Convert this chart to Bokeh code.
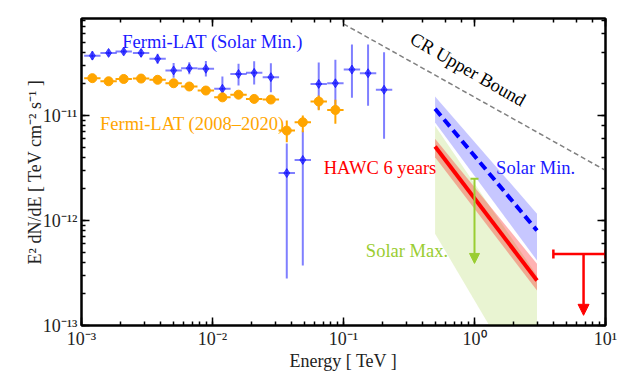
from bokeh.plotting import figure
from bokeh.models import LogAxis, Arrow, NormalHead, CustomJSTickFormatter
from bokeh.core.properties import value
from bokeh.embed import file_html
from bokeh.resources import INLINE
import numpy as np

# ---------------- data ----------------
# Fermi-LAT (Solar Min.)
min_E = [1.21e-3, 1.61e-3, 2.10e-3, 2.85e-3, 3.81e-3, 5.05e-3, 6.65e-3, 8.9e-3,
         1.19e-2, 1.58e-2, 2.08e-2, 2.79e-2, 3.69e-2, 4.89e-2, 6.47e-2, 8.67e-2,
         0.116, 0.154, 0.204]
min_flux = [3.72e-11, 3.95e-11, 4.07e-11, 3.95e-11, 3.47e-11, 2.69e-11, 2.82e-11, 2.79e-11,
            1.80e-11, 2.49e-11, 2.55e-11, 2.32e-11, 2.83e-12, 3.78e-12, 2.0e-11, 2.03e-11,
            2.74e-11, 2.53e-11, 1.76e-11]
min_lo = [3.39e-11, 3.67e-11, 3.79e-11, 3.62e-11, 3.11e-11, 2.29e-11, 2.47e-11, 2.36e-11,
          1.63e-11, 1.93e-11, 1.97e-11, 1.67e-11, 2.81e-13, 3.73e-13, 1.14e-11, 1.07e-11,
          1.48e-11, 1.24e-11, 6.0e-12]
min_hi = [4.09e-11, 4.25e-11, 4.38e-11, 4.31e-11, 3.87e-11, 3.16e-11, 3.21e-11, 3.30e-11,
          2.35e-11, 3.11e-11, 3.29e-11, 3.15e-11, 5.41e-12, 7.19e-12, 3.2e-11, 3.39e-11,
          4.74e-11, 4.74e-11, 4.01e-11]

# Fermi-LAT (2008-2020)
all_E = [1.21e-3, 1.61e-3, 2.10e-3, 2.85e-3, 3.81e-3, 5.05e-3, 6.65e-3, 8.9e-3,
         1.19e-2, 1.58e-2, 2.08e-2, 2.79e-2, 3.69e-2, 4.89e-2, 6.47e-2, 8.67e-2]
all_flux = [2.27e-11, 2.12e-11, 2.23e-11, 2.25e-11, 2.19e-11, 2.03e-11, 1.89e-11, 1.73e-11,
            1.49e-11, 1.58e-11, 1.44e-11, 1.42e-11, 7.19e-12, 8.63e-12, 1.36e-11, 1.13e-11]
all_lo = [2.18e-11, 2.03e-11, 2.14e-11, 2.16e-11, 2.10e-11, 1.95e-11, 1.81e-11, 1.65e-11,
          1.42e-11, 1.50e-11, 1.37e-11, 1.35e-11, 5.57e-12, 6.93e-12, 1.12e-11, 8.34e-12]
all_hi = [2.36e-11, 2.21e-11, 2.32e-11, 2.34e-11, 2.28e-11, 2.11e-11, 1.97e-11, 1.81e-11,
          1.56e-11, 1.66e-11, 1.51e-11, 1.49e-11, 8.95e-12, 1.0e-11, 1.55e-11, 1.41e-11]
half_bin = 1.155  # horizontal error bar factor (half bin in log)

# HAWC 6 years
hawc_E = [0.5, 3.0]
hawc_flux = [5.07e-12, 2.68e-13]
hawc_lo = [4.0e-12, 2.15e-13]
hawc_hi = [6.0e-12, 3.87e-13]

# HAWC Solar Min.
smin_flux = [1.16e-11, 8.03e-13]
smin_lo = [8.6e-12, 4.16e-13]
smin_hi = [1.52e-11, 1.16e-12]

# HAWC Solar Max.
smax_lo = [7.5e-13, 1.7e-14]
smax_hi = [8.0e-12, 3.0e-13]
smax_arrow_E = [1.0]
smax_arrow_top = [2.5e-12]
smax_arrow_bottom = [3.9e-13]

# HAWC upper limit (high energy)
ul_E_range = [4.0, 10.0]
ul_flux = [4.8e-13]
ul_E = [6.8]
ul_tip = [1.25e-13]

# CR upper bound
cr_E = [0.1, 10.0]
cr_flux = [7.46e-11, 3.0e-12]

# ---------------- figure ----------------
SERIF = "Liberation Serif"
p = figure(x_axis_type="log", y_axis_type="log",
           x_range=(1e-3, 10), y_range=(1e-13, 8.4e-11),
           frame_width=524, frame_height=307,
           min_border_left=81, min_border_top=18, min_border_right=21, min_border_bottom=45,
           output_backend="svg", toolbar_location=None)
p.grid.visible = False
p.outline_line_color = "black"
p.outline_line_width = 2
p.background_fill_color = "white"

fmt_code = """
const sup = {"-":"\u207b","0":"\u2070","1":"\u00b9","2":"\u00b2","3":"\u00b3","4":"\u2074","5":"\u2075","6":"\u2076","7":"\u2077","8":"\u2078","9":"\u2079"};
const e = Math.round(Math.log10(tick));
return "10" + String(e).split("").map(c => sup[c]).join("");
"""

def style_axis(ax, show_labels):
    ax.axis_line_width = 2
    ax.major_tick_in = 8
    ax.major_tick_out = 0
    ax.minor_tick_in = 4
    ax.minor_tick_out = 0
    ax.major_tick_line_width = 1.5
    ax.minor_tick_line_width = 1.5
    if show_labels:
        ax.formatter = CustomJSTickFormatter(code=fmt_code)
        ax.major_label_text_font = SERIF
        ax.major_label_text_font_size = "18px"
        ax.major_label_text_color = "#222222"
        ax.axis_label_text_font = SERIF
        ax.axis_label_text_font_size = "18px"
        ax.axis_label_text_font_style = "normal"
        ax.axis_label_text_color = "#222222"
    else:
        ax.formatter = CustomJSTickFormatter(code="return '';")
        ax.major_label_text_font_size = "0px"
        ax.major_label_standoff = 0

style_axis(p.xaxis[0], True)
style_axis(p.yaxis[0], True)
p.xaxis[0].axis_label = "Energy [ TeV ]"
p.yaxis[0].axis_label = "E\u00b2 dN/dE [ TeV cm\u207b\u00b2 s\u207b\u00b9 ]"
p.xaxis[0].major_label_standoff = 3
p.yaxis[0].major_label_standoff = 4
p.xaxis[0].axis_label_standoff = -1
p.yaxis[0].axis_label_standoff = -5

top = LogAxis()
style_axis(top, False)
p.add_layout(top, "above")
right = LogAxis()
style_axis(right, False)
p.add_layout(right, "right")

# ---------------- bands ----------------
p.varea(x=hawc_E, y1=smax_lo, y2=smax_hi, fill_color="#9acd32", fill_alpha=0.22)
p.varea(x=hawc_E, y1=smin_lo, y2=smin_hi, fill_color="#0000ff", fill_alpha=0.22)
p.varea(x=hawc_E, y1=hawc_lo, y2=hawc_hi, fill_color="#ff0000", fill_alpha=0.3)

# CR upper bound
p.line(cr_E, cr_flux, line_color="gray", line_width=1.5, line_dash="5 3")

# HAWC lines
p.line(hawc_E, smin_flux, line_color="#0000ff", line_width=4, line_dash="9 5")
p.line(hawc_E, hawc_flux, line_color="#ff0000", line_width=4)

# Solar max arrow
p.add_layout(Arrow(end=NormalHead(size=10, fill_color="#9acd32", line_color="#9acd32"),
                   x_start=smax_arrow_E[0], y_start=smax_arrow_top[0],
                   x_end=smax_arrow_E[0], y_end=smax_arrow_bottom[0],
                   line_color="#9acd32", line_width=2))
p.scatter(smax_arrow_E, smax_arrow_top, marker="dash", size=8, line_color="#9acd32", line_width=2)

# HAWC upper limit
p.line(ul_E_range, [ul_flux[0], ul_flux[0]], line_color="#ff0000", line_width=2.5)
p.scatter(ul_E_range, [ul_flux[0], ul_flux[0]], marker="dash", angle=np.pi / 2, size=9,
          line_color="#ff0000", line_width=2.5)
p.add_layout(Arrow(end=NormalHead(size=11, fill_color="#ff0000", line_color="#ff0000"),
                   x_start=ul_E[0], y_start=ul_flux[0], x_end=ul_E[0], y_end=ul_tip[0],
                   line_color="#ff0000", line_width=2.5))

# Fermi solar min
mE = np.array(min_E)
p.segment(x0=mE, y0=min_lo, x1=mE, y1=min_hi, line_color="#0000ff", line_alpha=0.5, line_width=2)
p.segment(x0=mE / half_bin, y0=min_flux, x1=mE * half_bin, y1=min_flux,
          line_color="#0000ff", line_alpha=0.5, line_width=2)
p.scatter(mE, min_flux, marker="diamond", size=9, fill_color="#0000ff", line_color="#0000ff",
          fill_alpha=0.6, line_alpha=0.6)

# Fermi 2008-2020
aE = np.array(all_E)
p.segment(x0=aE, y0=all_lo, x1=aE, y1=all_hi, line_color="#ffa500", line_width=2)
p.segment(x0=aE / half_bin, y0=all_flux, x1=aE * half_bin, y1=all_flux,
          line_color="#ffa500", line_width=2)
p.scatter(aE, all_flux, marker="circle", size=9, fill_color="#ffa500", line_color="#ffa500")

# ---------------- texts ----------------
def label(x, y, t, color, align="center", angle=0.0, baseline="alphabetic"):
    p.text(x=[x], y=[y], text=[t], text_color=color, text_font=value(SERIF),
           text_font_size="18.5px", text_align=align, text_baseline=baseline, angle=angle)

label(1.0e-2, 4.99e-11, "Fermi-LAT (Solar Min.)", "#1a1aff")
label(7.0e-3, 8.3e-12, "Fermi-LAT (2008\u20132020)", "#ffa500")
label(0.19, 3.13e-12, "HAWC 6 years", "#ff0000")
label(2.93, 3.13e-12, "Solar Min.", "#1a1aff")
label(0.305, 5.1e-13, "Solar Max.", "#9acd32")
label(0.89, 2.74e-11, "CR Upper Bound", "black", angle=-0.52, baseline="middle")

with open("out.html", "w", encoding="utf-8") as f:
    f.write(file_html(p, INLINE))
